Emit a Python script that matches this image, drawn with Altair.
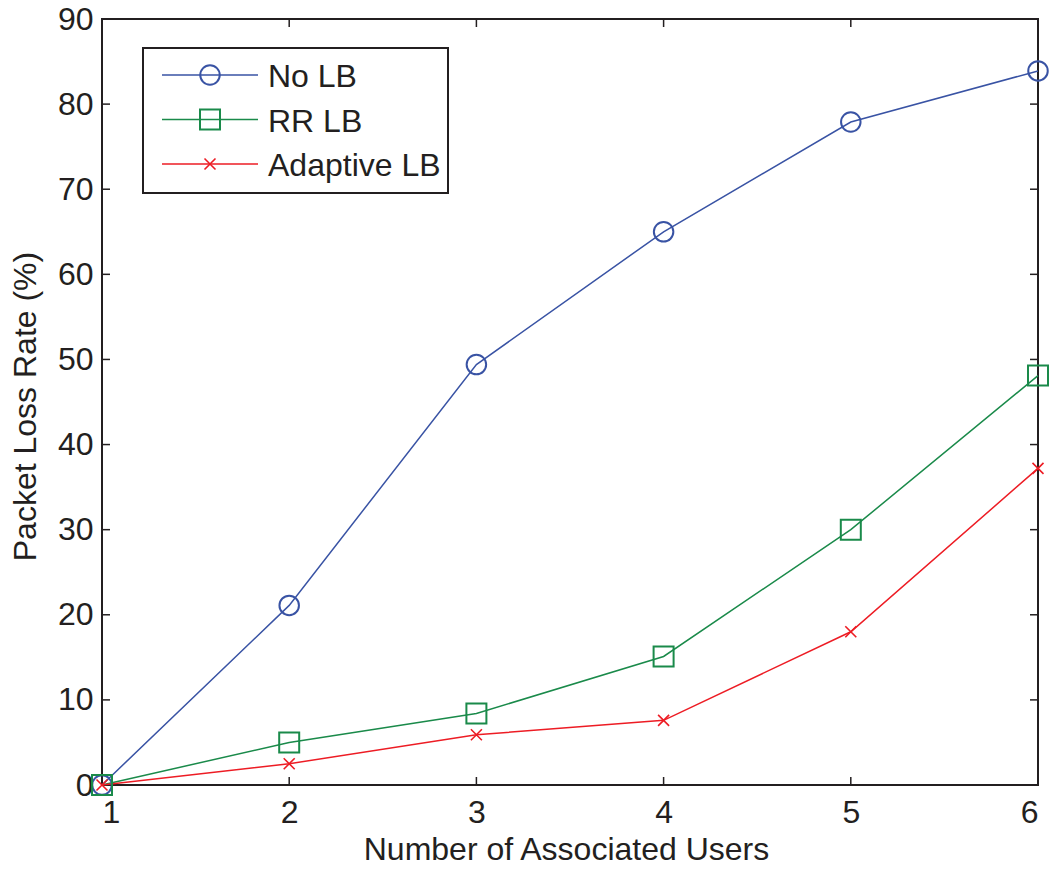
import altair as alt
import pandas as pd

# ---- data ----
users = [1, 2, 3, 4, 5, 6]
series_names = ["No LB", "RR LB", "Adaptive LB"]
no_lb = [0.0, 21.1, 49.4, 65.0, 77.9, 83.9]
rr_lb = [0.0, 5.0, 8.4, 15.1, 30.0, 48.1]
adaptive_lb = [0.0, 2.5, 5.9, 7.6, 18.0, 37.2]
x_ticks = [1, 2, 3, 4, 5, 6]
y_ticks = [0, 10, 20, 30, 40, 50, 60, 70, 80, 90]

# ---- styling ----
colors = ["#3953a4", "#1a8a4a", "#ed1c24"]
shapes = ["circle", "square", "M-1,-1L1,1M-1,1L1,-1"]
sizes = [380, 400, 121]
stroke_widths = [2, 2, 1.6]
ink = "#231f20"
font = "Liberation Sans"
FS = 32
W, H = 936, 766
TICK = 8

rows = []
for name, vals in zip(series_names, [no_lb, rr_lb, adaptive_lb]):
    for u, v in zip(users, vals):
        rows.append({"series": name, "users": u, "rate": v})
df = pd.DataFrame(rows)
legend_df = pd.DataFrame({"series": series_names})

xs = alt.Scale(domain=[1, 6], nice=False, zero=False)
ys = alt.Scale(domain=[0, 90], nice=False, zero=False)
color_scale = alt.Scale(domain=series_names, range=colors)

x_axis = alt.Axis(values=x_ticks, format="d", title="Number of Associated Users",
                  labelPadding=12, titlePadding=6, tickSize=0, titleX=464)
y_axis = alt.Axis(values=y_ticks, format="d", title="Packet Loss Rate (%)",
                  labelPadding=9, titlePadding=15, tickSize=0, titleY=387)

lines = alt.Chart(df).mark_line(strokeWidth=1.5).encode(
    x=alt.X("users:Q", scale=xs, axis=x_axis),
    y=alt.Y("rate:Q", scale=ys, axis=y_axis),
    color=alt.Color("series:N", scale=color_scale, legend=None),
)

point_layers = []
for name, shp, sz, sw in zip(series_names, shapes, sizes, stroke_widths):
    point_layers.append(
        alt.Chart(df).transform_filter(alt.datum.series == name)
        .mark_point(filled=False, shape=shp, size=sz, strokeWidth=sw, opacity=1)
        .encode(
            x=alt.X("users:Q", scale=xs),
            y=alt.Y("rate:Q", scale=ys),
            color=alt.Color("series:N", scale=color_scale, legend=None),
        )
    )

ydf = pd.DataFrame({"v": y_ticks})
xdf = pd.DataFrame({"v": x_ticks})
ytick_l = alt.Chart(ydf).mark_rule(color=ink, strokeWidth=1.5).encode(
    y=alt.Y("v:Q", scale=ys), x=alt.value(0), x2=alt.value(TICK))
ytick_r = alt.Chart(ydf).mark_rule(color=ink, strokeWidth=1.5).encode(
    y=alt.Y("v:Q", scale=ys), x=alt.value(W - TICK), x2=alt.value(W))
xtick_b = alt.Chart(xdf).mark_rule(color=ink, strokeWidth=1.5).encode(
    x=alt.X("v:Q", scale=xs), y=alt.value(H - TICK), y2=alt.value(H))
xtick_t = alt.Chart(xdf).mark_rule(color=ink, strokeWidth=1.5).encode(
    x=alt.X("v:Q", scale=xs), y=alt.value(0), y2=alt.value(TICK))

main = alt.layer(ytick_l, ytick_r, xtick_b, xtick_t, lines, *point_layers)

# ---- legend box (drawn inside the plot, as in the reference) ----
leg_y = alt.Y("series:N", scale=alt.Scale(type="point", domain=series_names,
                                           range=[56, 145], padding=0), axis=None)
box = alt.Chart(pd.DataFrame({"k": [0]})).mark_rect(
    fill="white", stroke=ink, strokeWidth=2).encode(
    x=alt.value(41), x2=alt.value(346), y=alt.value(29), y2=alt.value(174))
leg_lines = alt.Chart(legend_df).mark_rule(strokeWidth=1.5).encode(
    x=alt.value(60), x2=alt.value(156), y=leg_y,
    color=alt.Color("series:N", scale=color_scale, legend=None))
leg_points = []
for name, shp, sz, sw in zip(series_names, shapes, sizes, stroke_widths):
    leg_points.append(
        alt.Chart(legend_df).transform_filter(alt.datum.series == name)
        .mark_point(filled=False, shape=shp, size=sz, strokeWidth=sw, opacity=1)
        .encode(
            x=alt.value(108), y=leg_y,
            color=alt.Color("series:N", scale=color_scale, legend=None),
        )
    )
leg_text = alt.Chart(legend_df).mark_text(
    align="left", baseline="middle", font=font, fontSize=FS, color=ink, dy=2).encode(
    x=alt.value(166), y=leg_y, text="series:N")

legend = alt.layer(box, leg_lines, *leg_points, leg_text)

chart = alt.layer(main, legend).resolve_scale(y="independent").properties(
    width=W, height=H,
    autosize=alt.AutoSizeParams(type="none"),
    padding={"left": 102, "top": 19, "right": 14, "bottom": 84},
    background="white",
).configure_view(
    stroke=ink, strokeWidth=2
).configure_axis(
    labelFont=font, labelFontSize=FS, labelColor=ink,
    titleFont=font, titleFontSize=FS, titleColor=ink, titleFontWeight="normal",
    domain=False, ticks=False, grid=False,
)

chart.save("out.html", embed_options={"renderer": "svg", "actions": False})
